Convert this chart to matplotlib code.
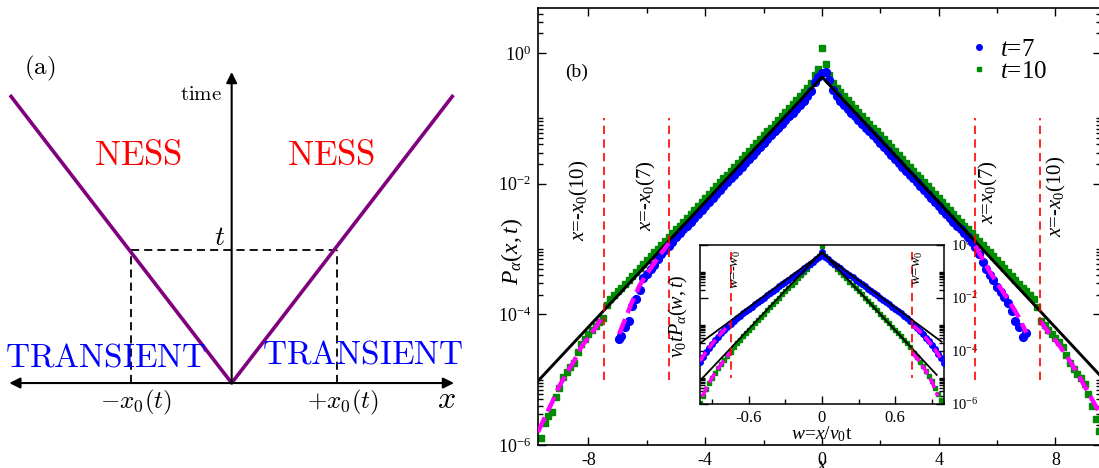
import numpy as np
import matplotlib
matplotlib.use('Agg')
import matplotlib.pyplot as plt
from matplotlib.ticker import FixedLocator, FixedFormatter, NullFormatter
from matplotlib.lines import Line2D

plt.rcParams['font.family'] = ['Liberation Serif', 'DejaVu Serif']
plt.rcParams['mathtext.fontset'] = 'custom'
plt.rcParams['mathtext.rm'] = 'Liberation Serif'
plt.rcParams['mathtext.it'] = 'Liberation Serif:italic'
plt.rcParams['mathtext.bf'] = 'Liberation Serif:bold'

# ---------------- Panel (a): schematic (x, time) ----------------
cone_x = [-1.0, 0.0, 1.0]
cone_time = [1.0, 0.0, 1.0]
t_level = 0.462
x0_left = -0.454
x0_right = 0.475
axis_x_extent = [-1.003, 1.003]
axis_time_top = 1.08

# ---------------- Panel (b): main data (x, log10 P) ----------------
xticks_major = [-8, -4, 0, 4, 8]
xticks_minor = [-6, -2, 2, 6]
xtick_labels = ['-8', '-4', '0', '4', '8']
yticks_major = [1e-6, 1e-4, 1e-2, 1e0]
ytick_labels = [r'$10^{-6}$', r'$10^{-4}$', r'$10^{-2}$', r'$10^{0}$']

t10_points = [
    (-9.625, -5.90), (-9.5, -5.66), (-9.375, -5.56), (-9.25, -5.50), (-9.125, -5.26),
    (-9.0, -5.12), (-8.875, -4.96), (-8.75, -4.88), (-8.625, -4.80), (-8.5, -4.74),
    (-8.375, -4.58), (-8.25, -4.45), (-8.125, -4.37), (-8.0, -4.30), (-7.875, -4.24),
    (-7.75, -4.18), (-7.625, -4.12), (-7.5, -4.06), (-7.375, -3.85), (-7.25, -3.77),
    (-7.125, -3.71), (-7.0, -3.65), (-6.875, -3.59), (-6.75, -3.53), (-6.625, -3.47),
    (-6.5, -3.41), (-6.375, -3.35), (-6.25, -3.29), (-6.125, -3.23), (-6.0, -3.17),
    (-5.875, -3.11), (-5.75, -3.05), (-5.625, -3.00), (-5.5, -2.94), (-5.375, -2.88),
    (-5.25, -2.82), (-5.125, -2.76), (-5.0, -2.70), (-4.875, -2.64), (-4.75, -2.58),
    (-4.625, -2.52), (-4.5, -2.46), (-4.375, -2.40), (-4.25, -2.34), (-4.125, -2.28),
    (-4.0, -2.22), (-3.875, -2.16), (-3.75, -2.10), (-3.625, -2.04), (-3.5, -1.98),
    (-3.375, -1.92), (-3.25, -1.86), (-3.125, -1.80), (-3.0, -1.74), (-2.875, -1.68),
    (-2.75, -1.62), (-2.625, -1.56), (-2.5, -1.50), (-2.375, -1.44), (-2.25, -1.38),
    (-2.125, -1.32), (-2.0, -1.26), (-1.875, -1.20), (-1.75, -1.14), (-1.625, -1.08),
    (-1.5, -1.02), (-1.375, -0.96), (-1.25, -0.90), (-1.125, -0.84), (-1.0, -0.78),
    (-0.875, -0.72), (-0.75, -0.66), (-0.625, -0.60), (-0.5, -0.54), (-0.375, -0.46),
    (-0.25, -0.33), (-0.125, -0.24), (0.0, 0.08), (0.125, -0.17), (0.25, -0.33),
    (0.375, -0.46), (0.5, -0.54), (0.625, -0.60), (0.75, -0.66), (0.875, -0.72),
    (1.0, -0.78), (1.125, -0.84), (1.25, -0.90), (1.375, -0.96), (1.5, -1.02),
    (1.625, -1.08), (1.75, -1.14), (1.875, -1.20), (2.0, -1.26), (2.125, -1.32),
    (2.25, -1.38), (2.375, -1.44), (2.5, -1.50), (2.625, -1.56), (2.75, -1.62),
    (2.875, -1.68), (3.0, -1.74), (3.125, -1.80), (3.25, -1.86), (3.375, -1.92),
    (3.5, -1.98), (3.625, -2.04), (3.75, -2.10), (3.875, -2.16), (4.0, -2.22),
    (4.125, -2.28), (4.25, -2.34), (4.375, -2.40), (4.5, -2.46), (4.625, -2.52),
    (4.75, -2.58), (4.875, -2.64), (5.0, -2.70), (5.125, -2.76), (5.25, -2.82),
    (5.375, -2.88), (5.5, -2.94), (5.625, -3.00), (5.75, -3.05), (5.875, -3.11),
    (6.0, -3.17), (6.125, -3.23), (6.25, -3.29), (6.375, -3.35), (6.5, -3.41),
    (6.625, -3.47), (6.75, -3.53), (6.875, -3.59), (7.0, -3.65), (7.125, -3.71),
    (7.25, -3.77), (7.375, -3.88), (7.5, -4.10), (7.625, -4.17), (7.75, -4.24),
    (7.875, -4.30), (8.0, -4.36), (8.125, -4.43), (8.25, -4.50), (8.375, -4.62),
    (8.5, -4.74), (8.625, -4.83), (8.75, -4.92), (8.875, -4.98), (9.0, -5.06),
    (9.125, -5.22), (9.25, -5.40), (9.375, -5.60), (9.5, -5.78),
]

t7_points = [
    (-6.95, -4.37), (-6.875, -4.33), (-6.75, -4.20), (-6.625, -4.10), (-6.5, -3.87),
    (-6.375, -3.76), (-6.25, -3.62), (-6.125, -3.44), (-6.0, -3.38), (-5.875, -3.30),
    (-5.75, -3.24), (-5.625, -3.16), (-5.5, -3.08), (-5.375, -3.02), (-5.25, -2.96),
    (-5.125, -2.89), (-5.0, -2.82), (-4.875, -2.76), (-4.75, -2.70), (-4.625, -2.64),
    (-4.5, -2.58), (-4.375, -2.52), (-4.25, -2.46), (-4.125, -2.40), (-4.0, -2.34),
    (-3.875, -2.28), (-3.75, -2.22), (-3.625, -2.16), (-3.5, -2.10), (-3.375, -2.04),
    (-3.25, -1.98), (-3.125, -1.92), (-3.0, -1.86), (-2.875, -1.80), (-2.75, -1.74),
    (-2.625, -1.68), (-2.5, -1.62), (-2.375, -1.56), (-2.25, -1.50), (-2.125, -1.44),
    (-2.0, -1.38), (-1.875, -1.32), (-1.75, -1.26), (-1.625, -1.20), (-1.5, -1.14),
    (-1.375, -1.09), (-1.25, -1.03), (-1.125, -0.97), (-1.0, -0.91), (-0.875, -0.85),
    (-0.75, -0.79), (-0.625, -0.73), (-0.5, -0.66), (-0.375, -0.58), (-0.25, -0.45),
    (-0.125, -0.36), (0.0, -0.30), (0.125, -0.29), (0.25, -0.41), (0.375, -0.57),
    (0.5, -0.66), (0.625, -0.73), (0.75, -0.79), (0.875, -0.85), (1.0, -0.91),
    (1.125, -0.97), (1.25, -1.03), (1.375, -1.09), (1.5, -1.14), (1.625, -1.20),
    (1.75, -1.26), (1.875, -1.32), (2.0, -1.38), (2.125, -1.44), (2.25, -1.50),
    (2.375, -1.56), (2.5, -1.62), (2.625, -1.68), (2.75, -1.74), (2.875, -1.80),
    (3.0, -1.86), (3.125, -1.92), (3.25, -1.98), (3.375, -2.04), (3.5, -2.10),
    (3.625, -2.16), (3.75, -2.22), (3.875, -2.28), (4.0, -2.34), (4.125, -2.40),
    (4.25, -2.46), (4.375, -2.52), (4.5, -2.58), (4.625, -2.64), (4.75, -2.70),
    (4.875, -2.76), (5.0, -2.82), (5.125, -2.89), (5.25, -2.97), (5.375, -3.08),
    (5.5, -3.20), (5.625, -3.30), (5.75, -3.40), (5.875, -3.48), (6.0, -3.58),
    (6.125, -3.66), (6.25, -3.74), (6.375, -3.82), (6.5, -3.95), (6.625, -4.10),
    (6.75, -4.20), (6.875, -4.35), (7.0, -4.28),
]

x_ness = [-9.73, 0.0, 9.56]
logP_ness = [-5.02, -0.366, -4.95]

x_fit7_left = [-6.95, -6.75, -6.5, -6.25, -6.0, -5.75, -5.5, -5.25]
logP_fit7_left = [-4.30, -4.08, -3.80, -3.56, -3.38, -3.22, -3.06, -2.91]
x_fit7_right = [5.25, 5.5, 5.75, 6.0, 6.25, 6.5, 6.75, 7.0]
logP_fit7_right = [-2.95, -3.15, -3.35, -3.52, -3.69, -3.86, -4.05, -4.28]
x_fit10_left = [-9.73, -9.5, -9.25, -9.0, -8.75, -8.5, -8.25, -8.0, -7.75, -7.47]
logP_fit10_left = [-5.80, -5.58, -5.35, -5.10, -4.90, -4.72, -4.50, -4.35, -4.20, -4.00]
x_fit10_right = [7.47, 7.75, 8.0, 8.25, 8.5, 8.75, 9.0, 9.25, 9.56]
logP_fit10_right = [-4.10, -4.27, -4.40, -4.55, -4.72, -4.90, -5.10, -5.30, -5.55]

x0_t7 = 5.23
x0_t10 = 7.47
front_line_range = [1e-5, 1e-1]

# ---------------- Inset data (w, log10 v0 t P) ----------------
in_t7_points = [
    (-1.0, -4.40), (-0.975, -4.22), (-0.95, -4.05), (-0.925, -3.90), (-0.9, -3.75),
    (-0.875, -3.60), (-0.85, -3.46), (-0.825, -3.33), (-0.8, -3.20), (-0.775, -3.08),
    (-0.75, -2.97), (-0.725, -2.85), (-0.7, -2.75), (-0.675, -2.67), (-0.65, -2.58),
    (-0.625, -2.50), (-0.6, -2.41), (-0.575, -2.33), (-0.55, -2.24), (-0.525, -2.16),
    (-0.5, -2.07), (-0.475, -1.99), (-0.45, -1.90), (-0.425, -1.82), (-0.4, -1.73),
    (-0.375, -1.65), (-0.35, -1.56), (-0.325, -1.48), (-0.3, -1.39), (-0.275, -1.31),
    (-0.25, -1.22), (-0.225, -1.14), (-0.2, -1.05), (-0.175, -0.97), (-0.15, -0.88),
    (-0.125, -0.80), (-0.1, -0.71), (-0.075, -0.63), (-0.05, -0.54), (-0.025, -0.46),
    (0.0, -0.28), (0.025, -0.46), (0.05, -0.54), (0.075, -0.63), (0.1, -0.71),
    (0.125, -0.80), (0.15, -0.88), (0.175, -0.97), (0.2, -1.05), (0.225, -1.14),
    (0.25, -1.22), (0.275, -1.31), (0.3, -1.39), (0.325, -1.48), (0.35, -1.56),
    (0.375, -1.65), (0.4, -1.73), (0.425, -1.82), (0.45, -1.90), (0.475, -1.99),
    (0.5, -2.07), (0.525, -2.16), (0.55, -2.24), (0.575, -2.33), (0.6, -2.41),
    (0.625, -2.50), (0.65, -2.58), (0.675, -2.67), (0.7, -2.75), (0.725, -2.88),
    (0.75, -3.03), (0.775, -3.13), (0.8, -3.24), (0.825, -3.37), (0.85, -3.50),
    (0.875, -3.64), (0.9, -3.78), (0.925, -3.94), (0.95, -4.10), (0.975, -4.27),
    (1.0, -4.45),
]
in_t10_points = [
    (-1.0, -5.95), (-0.975, -5.68), (-0.95, -5.45), (-0.925, -5.22), (-0.9, -5.02),
    (-0.875, -4.84), (-0.85, -4.66), (-0.825, -4.50), (-0.8, -4.34), (-0.775, -4.19),
    (-0.75, -4.04), (-0.725, -3.85), (-0.7, -3.69), (-0.675, -3.57), (-0.65, -3.45),
    (-0.625, -3.33), (-0.6, -3.20), (-0.575, -3.08), (-0.55, -2.96), (-0.525, -2.84),
    (-0.5, -2.72), (-0.475, -2.59), (-0.45, -2.47), (-0.425, -2.35), (-0.4, -2.23),
    (-0.375, -2.11), (-0.35, -1.99), (-0.325, -1.86), (-0.3, -1.74), (-0.275, -1.62),
    (-0.25, -1.50), (-0.225, -1.38), (-0.2, -1.25), (-0.175, -1.13), (-0.15, -1.01),
    (-0.125, -0.89), (-0.1, -0.77), (-0.075, -0.65), (-0.05, -0.52), (-0.025, -0.40),
    (0.0, -0.02), (0.025, -0.40), (0.05, -0.52), (0.075, -0.65), (0.1, -0.77),
    (0.125, -0.89), (0.15, -1.01), (0.175, -1.13), (0.2, -1.25), (0.225, -1.38),
    (0.25, -1.50), (0.275, -1.62), (0.3, -1.74), (0.325, -1.86), (0.35, -1.99),
    (0.375, -2.11), (0.4, -2.23), (0.425, -2.35), (0.45, -2.47), (0.475, -2.59),
    (0.5, -2.72), (0.525, -2.84), (0.55, -2.96), (0.575, -3.08), (0.6, -3.20),
    (0.625, -3.33), (0.65, -3.45), (0.675, -3.57), (0.7, -3.69), (0.725, -3.86),
    (0.75, -4.08), (0.775, -4.24), (0.8, -4.40), (0.825, -4.58), (0.85, -4.76),
    (0.875, -4.95), (0.9, -5.15), (0.925, -5.38), (0.95, -5.62), (0.975, -5.85),
    (1.0, -5.98),
]
in_w_line7 = [-1.0, 0.0, 0.98]
in_logP_line7 = [-3.71, -0.31, -3.65]
in_w_line10 = [-1.0, 0.0, 0.94]
in_logP_line10 = [-5.12, -0.25, -4.90]
in_w_fit7_left = [-1.0, -0.95, -0.9, -0.85, -0.8, -0.75]
in_logP_fit7_left = [-4.38, -4.03, -3.73, -3.45, -3.20, -2.98]
in_w_fit7_right = [0.75, 0.8, 0.85, 0.9, 0.95, 0.99]
in_logP_fit7_right = [-3.05, -3.25, -3.50, -3.78, -4.10, -4.42]
in_w_fit10_left = [-0.98, -0.95, -0.9, -0.85, -0.8, -0.75]
in_logP_fit10_left = [-5.72, -5.42, -5.00, -4.65, -4.33, -4.05]
in_w_fit10_right = [0.74, 0.8, 0.85, 0.9, 0.95]
in_logP_fit10_right = [-4.07, -4.40, -4.75, -5.15, -5.70]
in_w0_left = -0.75
in_w0_right = 0.74
in_front_range = [0.54, 1e-5]
in_xticks_major = [-0.6, 0.0, 0.6]
in_xticks_minor = [-0.9, -0.3, 0.3, 0.9]
in_xtick_labels = ['-0.6', '0', '0.6']

BLUE = '#0000ff'
GREEN = '#008b00'
MAGENTA = '#ff00ff'
RED = '#ff0000'
PURPLE = '#800080'

W, H = 1099, 468
fig = plt.figure(figsize=(W / 100, H / 100), dpi=100, facecolor='white')


def rect(left, top, right, bottom):
    return [left / W, (H - bottom) / H, (right - left) / W, (bottom - top) / H]


def P(vals):
    return 10.0 ** np.asarray(vals)


def split(points):
    xs = [p[0] for p in points]
    ys = [p[1] for p in points]
    return xs, P(ys)


# ================= Panel (a) =================
axa = fig.add_axes([0, 0, 460 / W, 1])
axa.set_xlim(-1.045, 1.030)
axa.set_ylim(-0.295, 1.33)
axa.axis('off')
cm = dict(math_fontfamily='cm')

axa.plot(cone_x, cone_time, color=PURPLE, lw=2.6, solid_capstyle='butt', zorder=3)
axa.plot([x0_left, x0_right], [t_level, t_level], color='k', lw=1.3, dashes=(4.5, 2.8))
axa.plot([x0_left, x0_left], [0, t_level], color='k', lw=1.3, dashes=(4.5, 2.8))
axa.plot([x0_right, x0_right], [0, t_level], color='k', lw=1.3, dashes=(4.5, 2.8))
axa.annotate('', xy=(0, axis_time_top), xytext=(0, 0),
             arrowprops=dict(arrowstyle='-|>', lw=1.5, color='k', mutation_scale=16,
                             shrinkA=0, shrinkB=0))
axa.annotate('', xy=(axis_x_extent[1], 0), xytext=(axis_x_extent[0], 0),
             arrowprops=dict(arrowstyle='<|-|>', lw=1.5, color='k', mutation_scale=16,
                             shrinkA=0, shrinkB=0))

axa.text(-0.865, 1.094, r'$\mathrm{(a)}$', fontsize=18, ha='center', va='center', **cm)
axa.text(-0.044, 1.0, r'$\mathrm{time}$', fontsize=15, ha='right', va='center', **cm)
axa.text(-0.42, 0.788, r'$\mathrm{NESS}$', fontsize=25, color=RED, ha='center', va='center', **cm)
axa.text(0.45, 0.788, r'$\mathrm{NESS}$', fontsize=25, color=RED, ha='center', va='center', **cm)
axa.text(-0.567, 0.087, r'$\mathrm{TRANSIENT}$', fontsize=24, color=BLUE, ha='center', va='center', **cm)
axa.text(0.592, 0.097, r'$\mathrm{TRANSIENT}$', fontsize=24, color=BLUE, ha='center', va='center', **cm)
axa.text(-0.053, 0.503, r'$t$', fontsize=20, ha='center', va='center', **cm)
axa.text(-0.43, -0.066, r'$-x_0(t)$', fontsize=18, ha='center', va='center', **cm)
axa.text(0.50, -0.066, r'$+x_0(t)$', fontsize=18, ha='center', va='center', **cm)
axa.text(0.97, -0.059, r'$x$', fontsize=23, ha='center', va='center', **cm)

# ================= Panel (b) main =================
ax = fig.add_axes(rect(538, 8, 1101, 445))
ax.set_zorder(3)
ax.patch.set_alpha(0.0)
ax.set_yscale('log')
ax.set_xlim(-9.73, 9.56)
ax.set_ylim(1e-6, 4.9)

gx, gy = split(t10_points)
bx, by = split(t7_points)
ax.plot(gx, gy, ls='none', marker='s', ms=5.0, color=GREEN, mec=GREEN, zorder=2)
ax.plot(bx, by, ls='none', marker='o', ms=5.6, color=BLUE, mec=BLUE, zorder=3)
ax.plot(x_ness, P(logP_ness), color='k', lw=2.1, zorder=4)
for xs, ys in [(x_fit7_left, logP_fit7_left), (x_fit7_right, logP_fit7_right),
               (x_fit10_left, logP_fit10_left), (x_fit10_right, logP_fit10_right)]:
    ax.plot(xs, P(ys), color=MAGENTA, lw=3.2, dashes=(3.6, 1.5), zorder=5)
for xv in [-x0_t10, -x0_t7, x0_t7, x0_t10]:
    ax.plot([xv, xv], front_line_range, color=RED, lw=1.2, dashes=(5, 3.2), zorder=6)

ax.xaxis.set_major_locator(FixedLocator(xticks_major))
ax.xaxis.set_major_formatter(FixedFormatter(xtick_labels))
ax.xaxis.set_minor_locator(FixedLocator(xticks_minor))
ax.yaxis.set_major_locator(FixedLocator(yticks_major))
ax.yaxis.set_major_formatter(FixedFormatter(ytick_labels))
yminor = [k * m for m in yticks_major for k in range(2, 11)]
ax.yaxis.set_minor_locator(FixedLocator(yminor))
ax.yaxis.set_minor_formatter(NullFormatter())
ax.tick_params(which='both', direction='in', top=True, right=True, width=1.0, labelsize=13)
ax.tick_params(which='major', length=6, pad=5)
ax.tick_params(which='minor', length=3.5)
for s in ax.spines.values():
    s.set_linewidth(1.2)

fig.text(512 / W, 1 - 252 / H, r'$P_\alpha(x,t)$', rotation=90, fontsize=17,
         ha='center', va='center')
fig.text(822 / W, 1 - 466 / H, r'$x$', fontsize=14, ha='center', va='center')
ax.text(-8.8, 10 ** -0.3, '(b)', fontsize=14, ha='left', va='center')

lbl_kw = dict(rotation=90, fontsize=15, ha='center', va='top')
fig.text(579 / W, 1 - 160 / H, r'$x$=-$x_0$(10)', **lbl_kw)
fig.text(646 / W, 1 - 160 / H, r'$x$=-$x_0$(7)', **lbl_kw)
fig.text(988 / W, 1 - 160 / H, r'$x$=$x_0$(7)', **lbl_kw)
fig.text(1056 / W, 1 - 156 / H, r'$x$=-$x_0$(10)', **lbl_kw)

handles = [Line2D([], [], ls='none', marker='o', ms=4, color=BLUE),
           Line2D([], [], ls='none', marker='s', ms=3.5, color=GREEN)]
leg = ax.legend(handles, [r'$t$=7', r'$t$=10'], loc='upper left',
                bbox_to_anchor=(969 / W, 1 - 38 / H), bbox_transform=fig.transFigure,
                frameon=False, fontsize=18, handlelength=0.8, handletextpad=0.45,
                labelspacing=0.0, borderpad=0.0, borderaxespad=0.0)

# ================= Inset =================
axi = fig.add_axes(rect(700, 245, 944, 404))
axi.set_zorder(2)
axi.set_yscale('log')
axi.set_xlim(-1.0, 1.0)
axi.set_ylim(1e-6, 1.0)
igx, igy = split(in_t10_points)
ibx, iby = split(in_t7_points)
axi.plot(igx, igy, ls='none', marker='s', ms=3.4, color=GREEN, mec=GREEN, zorder=2)
axi.plot(ibx, iby, ls='none', marker='o', ms=4.0, color=BLUE, mec=BLUE, zorder=3)
axi.plot(in_w_line7, P(in_logP_line7), color='k', lw=1.3, zorder=4)
axi.plot(in_w_line10, P(in_logP_line10), color='k', lw=1.3, zorder=4)
for ws, ys in [(in_w_fit7_left, in_logP_fit7_left), (in_w_fit7_right, in_logP_fit7_right),
               (in_w_fit10_left, in_logP_fit10_left), (in_w_fit10_right, in_logP_fit10_right)]:
    axi.plot(ws, P(ys), color=MAGENTA, lw=2.6, dashes=(3.0, 1.3), zorder=5)
for wv in [in_w0_left, in_w0_right]:
    axi.plot([wv, wv], in_front_range, color=RED, lw=1.2, dashes=(5, 3.2), zorder=6)

axi.xaxis.set_major_locator(FixedLocator(in_xticks_major))
axi.xaxis.set_major_formatter(FixedFormatter(in_xtick_labels))
axi.xaxis.set_minor_locator(FixedLocator(in_xticks_minor))
axi.yaxis.set_major_locator(FixedLocator(yticks_major))
axi.yaxis.set_major_formatter(FixedFormatter(ytick_labels))
axi.yaxis.set_minor_locator(FixedLocator([k * m for m in yticks_major[:3] for k in range(2, 11)]))
axi.yaxis.set_minor_formatter(NullFormatter())
axi.tick_params(which='both', direction='in', top=False, right=True, left=True,
                labelleft=False, labelright=True, width=1.0)
axi.tick_params(axis='x', labelsize=12, pad=4)
axi.tick_params(axis='y', labelsize=10.5, pad=5)
axi.tick_params(which='major', length=6)
axi.tick_params(which='minor', length=3.5)
for s in axi.spines.values():
    s.set_linewidth(1.1)

fig.text(822 / W, 1 - 434 / H, r'$w$=$x$/$v_0$t', fontsize=14, ha='center', va='center')
fig.text(678 / W, 1 - 316 / H, r'$v_0tP_\alpha(w,t)$', rotation=90, fontsize=14.5,
         ha='center', va='center')
fig.text(736 / W, 1 - 250 / H, r'$w$=-$w_0$', rotation=90, fontsize=10.5, ha='center', va='top')
fig.text(918 / W, 1 - 250 / H, r'$w$=$w_0$', rotation=90, fontsize=10.5, ha='center', va='top')

fig.savefig('out.png', dpi=100, facecolor='white')
